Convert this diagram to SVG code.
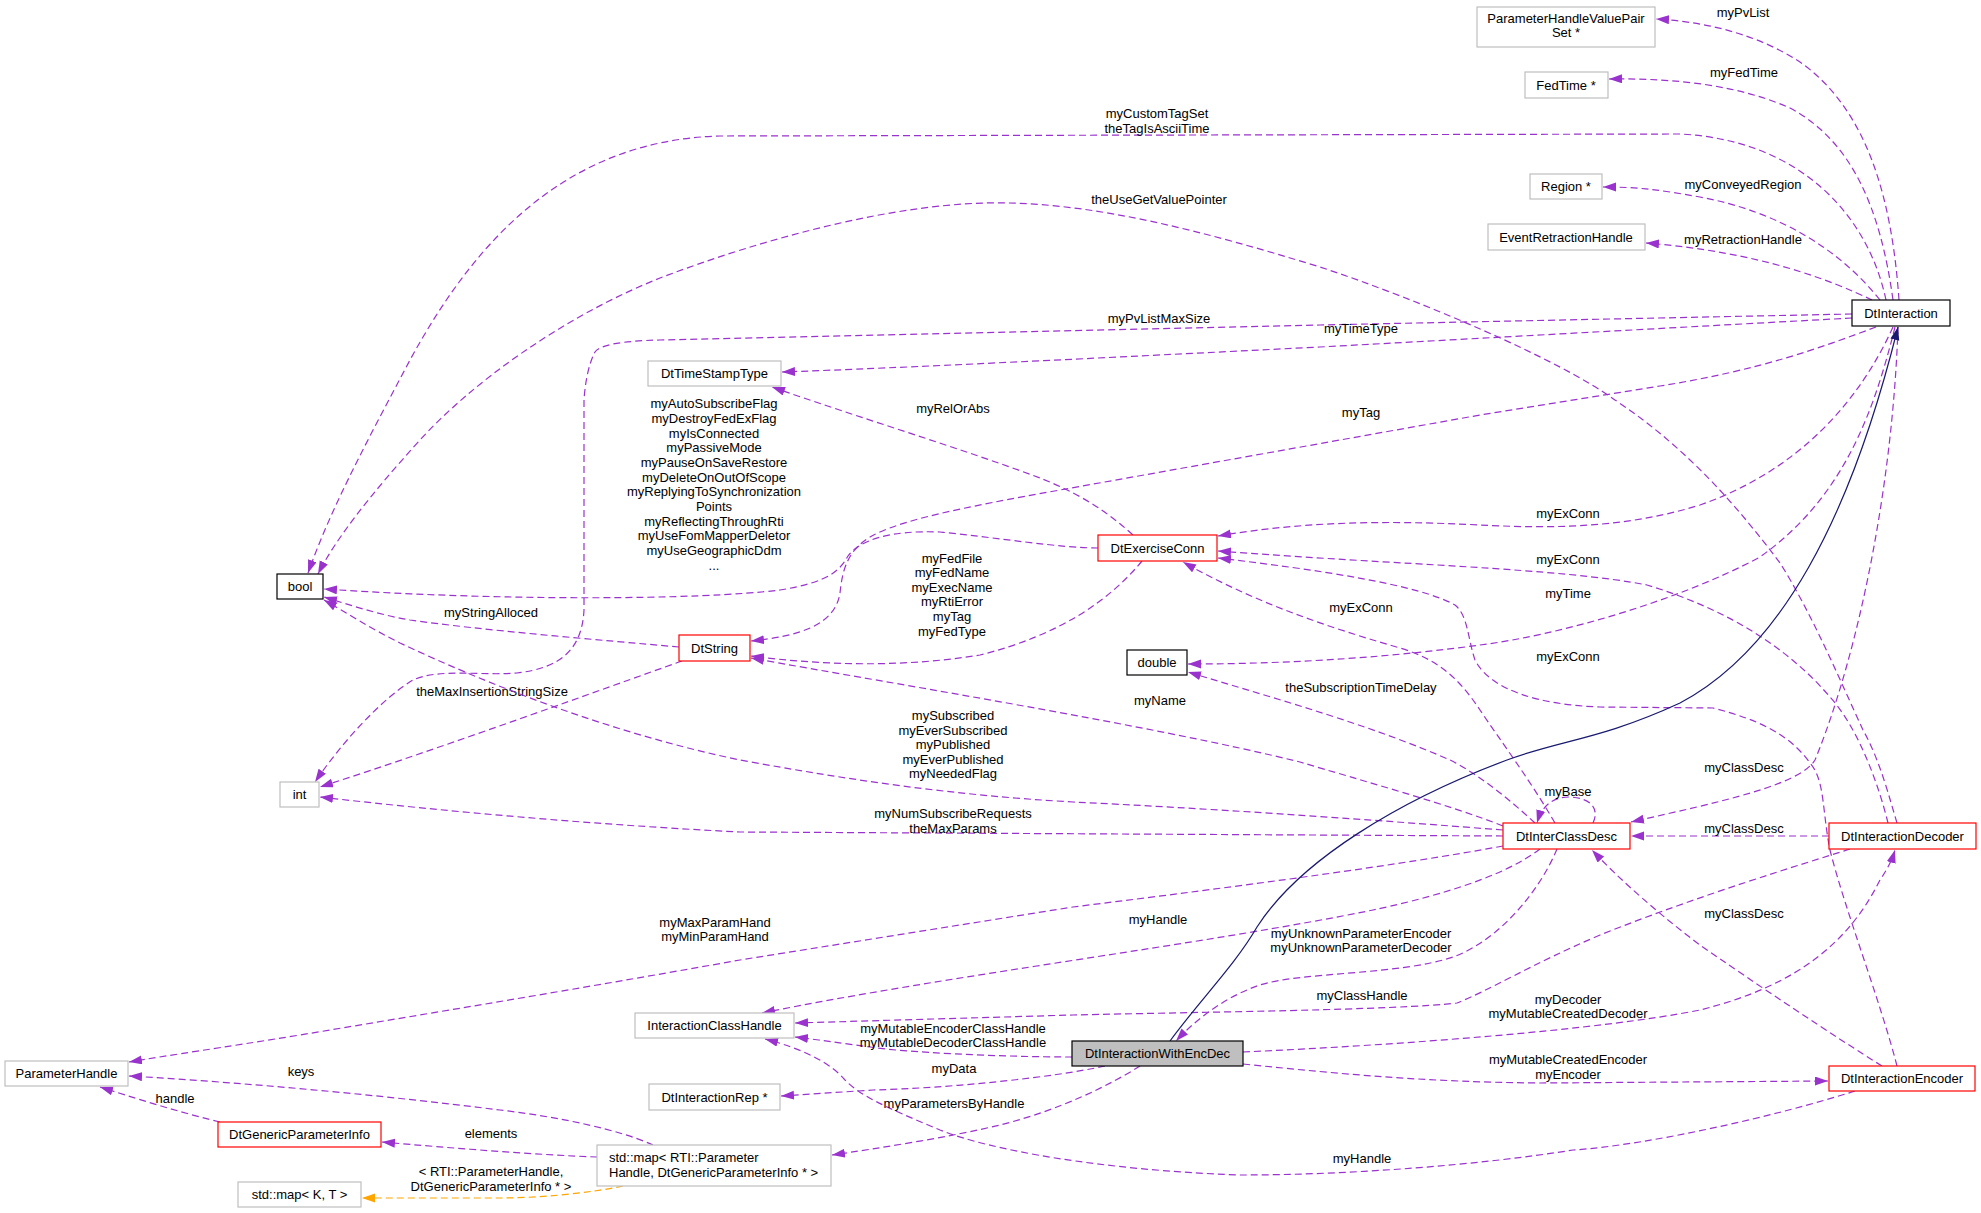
<svg xmlns="http://www.w3.org/2000/svg" width="1981" height="1213" viewBox="0 0 1981 1213">
<style>
text{font-family:"Liberation Sans",Arial,Helvetica,sans-serif;font-size:13px;fill:#000}
.n text{text-anchor:middle}
.l{text-anchor:middle}
rect{stroke-width:1.2}
.g rect{fill:#fff;stroke:#bfbfbf}
.r rect{fill:#fff;stroke:#ff0000}
.b rect{fill:#fff;stroke:#000}
.s rect{fill:#bfbfbf;stroke:#000}
.e path{fill:none;stroke:#9a32cd;stroke-width:1.2;stroke-dasharray:7,4;marker-end:url(#ap)}
path.inh{stroke:#191970;stroke-dasharray:none;marker-end:url(#ab)}
path.tpl{stroke:#ffa500;marker-end:url(#ao)}
</style>
<defs>
<marker id="ap" markerUnits="userSpaceOnUse" markerWidth="14" markerHeight="10" refX="13" refY="4.5" orient="auto"><path d="M0,0 L13,4.5 L0,9 z" fill="#9a32cd"/></marker>
<marker id="ab" markerUnits="userSpaceOnUse" markerWidth="14" markerHeight="10" refX="13" refY="4.5" orient="auto"><path d="M0,0 L13,4.5 L0,9 z" fill="#191970"/></marker>
<marker id="ao" markerUnits="userSpaceOnUse" markerWidth="14" markerHeight="10" refX="13" refY="4.5" orient="auto"><path d="M0,0 L13,4.5 L0,9 z" fill="#ffa500"/></marker>
</defs>
<rect width="1981" height="1213" fill="#fff" stroke="none"/>
<g id="edges" class="e">
<path d="M1899,300 C1892,200 1868,110 1800,62 C1760,36 1710,22 1656,19"/>
<text class="l" x="1743" y="17">myPvList</text>
<path d="M1893,300 C1880,205 1850,140 1790,108 C1740,86 1680,78 1609,79"/>
<text class="l" x="1744" y="77">myFedTime</text>
<path d="M1886,300 C1868,215 1800,140 1680,134 L720,136 C560,140 470,250 410,360 C372,432 332,505 308,573"/>
<text class="l" x="1157" y="118">myCustomTagSet</text>
<text class="l" x="1157" y="133">theTagIsAsciiTime</text>
<path d="M1880,300 C1840,250 1780,212 1700,197 C1660,190 1640,187 1603,187"/>
<text class="l" x="1743" y="189">myConveyedRegion</text>
<path d="M1872,300 C1830,280 1760,252 1646,243"/>
<text class="l" x="1743" y="244">myRetractionHandle</text>
<path d="M1852,314 L1320,325 L660,340 C620,341 600,345 595,352 C588,365 585,385 584,400 L584,610 C582,650 560,668 517,673 C480,676 440,668 413,680 C380,700 340,745 315,782"/>
<text class="l" x="1159" y="323">myPvListMaxSize</text>
<path d="M1852,318 L1320,347 C1100,358 900,368 782,372"/>
<text class="l" x="1361" y="333">myTimeType</text>
<path d="M1876,327 C1820,348 1760,370 1660,386 L1480,415 L1060,490 C960,508 900,520 870,537 C845,552 842,575 840,593 C835,625 800,636 751,641"/>
<text class="l" x="1361" y="417">myTag</text>
<path d="M1893,327 C1860,400 1800,470 1700,505 C1620,530 1540,528 1480,525 C1380,520 1300,522 1218,536"/>
<text class="l" x="1568" y="518">myExConn</text>
<path d="M1895,327 C1872,420 1840,500 1760,557 C1680,600 1560,635 1480,645 C1400,656 1300,664 1188,664"/>
<text class="l" x="1568" y="598">myTime</text>
<path d="M1898,327 C1893,480 1860,650 1815,760 C1800,785 1720,802 1631,822"/>
<text class="l" x="1744" y="772">myClassDesc</text>
<path d="M1133,535 C1100,505 1070,490 1040,478 C960,448 860,418 772,387"/>
<text class="l" x="953" y="413">myRelOrAbs</text>
<path d="M1098,548 C1060,548 1000,538 940,532 C890,530 860,540 848,556 C840,570 830,582 780,590 C700,600 500,601 324,589"/>
<text class="l" x="714" y="408">myAutoSubscribeFlag</text>
<text class="l" x="714" y="423">myDestroyFedExFlag</text>
<text class="l" x="714" y="438">myIsConnected</text>
<text class="l" x="714" y="452">myPassiveMode</text>
<text class="l" x="714" y="467">myPauseOnSaveRestore</text>
<text class="l" x="714" y="482">myDeleteOnOutOfScope</text>
<text class="l" x="714" y="496">myReplyingToSynchronization</text>
<text class="l" x="714" y="511">Points</text>
<text class="l" x="714" y="526">myReflectingThroughRti</text>
<text class="l" x="714" y="540">myUseFomMapperDeletor</text>
<text class="l" x="714" y="555">myUseGeographicDdm</text>
<text class="l" x="714" y="570">...</text>
<path d="M1142,561 C1110,600 1060,635 980,655 C900,668 820,665 751,656"/>
<text class="l" x="952" y="563">myFedFile</text>
<text class="l" x="952" y="577">myFedName</text>
<text class="l" x="952" y="592">myExecName</text>
<text class="l" x="952" y="606">myRtiError</text>
<text class="l" x="952" y="621">myTag</text>
<text class="l" x="952" y="636">myFedType</text>
<path d="M679,647 C600,640 480,630 410,620 C380,615 350,605 324,597"/>
<text class="l" x="491" y="617">myStringAlloced</text>
<path d="M682,661 C600,690 450,745 320,787"/>
<text class="l" x="492" y="696">theMaxInsertionStringSize</text>
<path d="M1555,823 C1530,780 1500,740 1480,710 C1460,680 1440,660 1400,648 C1320,625 1250,600 1183,562"/>
<text class="l" x="1361" y="612">myExConn</text>
<path d="M1535,823 C1510,800 1480,775 1450,760 C1370,725 1280,700 1188,672"/>
<text class="l" x="1361" y="692">theSubscriptionTimeDelay</text>
<path d="M1503,826 C1450,805 1360,780 1300,762 C1150,725 900,685 751,658"/>
<text class="l" x="1160" y="705">myName</text>
<path d="M1503,830 C1350,818 1200,808 1073,802 C950,795 850,780 740,760 C620,735 500,690 400,643 C370,628 345,612 324,600"/>
<text class="l" x="953" y="720">mySubscribed</text>
<text class="l" x="953" y="735">myEverSubscribed</text>
<text class="l" x="953" y="749">myPublished</text>
<text class="l" x="953" y="764">myEverPublished</text>
<text class="l" x="953" y="778">myNeededFlag</text>
<path d="M1503,836 L740,832 C600,825 450,812 320,797"/>
<text class="l" x="953" y="818">myNumSubscribeRequests</text>
<text class="l" x="953" y="833">theMaxParams</text>
<path d="M1593,823 C1600,808 1590,798 1570,797 C1555,797 1543,803 1537,823"/>
<text class="l" x="1568" y="796">myBase</text>
<path d="M1503,846 C1400,865 1250,885 1073,907 L740,960 C600,985 450,1010 300,1035 C220,1048 170,1055 129,1062"/>
<text class="l" x="715" y="927">myMaxParamHand</text>
<text class="l" x="715" y="941">myMinParamHand</text>
<path d="M1540,849 C1500,880 1420,900 1373,910 C1200,945 950,975 762,1013"/>
<text class="l" x="1158" y="924">myHandle</text>
<path d="M1557,849 C1540,890 1500,940 1453,957 C1400,975 1300,972 1260,985 C1230,995 1200,1015 1176,1041"/>
<text class="l" x="1361" y="938">myUnknownParameterEncoder</text>
<text class="l" x="1361" y="952">myUnknownParameterDecoder</text>
<path d="M1897,823 C1890,800 1880,760 1863,730 C1840,680 1810,610 1780,563 C1740,510 1690,450 1615,400 C1560,360 1420,300 1320,267 C1200,230 1100,205 1009,203 C900,200 760,240 660,278 C560,318 470,385 420,440 C370,495 335,540 318,574"/>
<text class="l" x="1159" y="204">theUseGetValuePointer</text>
<path d="M1888,823 C1880,790 1860,730 1830,697 C1790,650 1730,610 1647,585 C1560,568 1400,565 1218,551"/>
<text class="l" x="1568" y="564">myExConn</text>
<path d="M1829,836 L1631,836"/>
<text class="l" x="1744" y="833">myClassDesc</text>
<path d="M1850,849 C1800,865 1700,895 1600,935 C1530,965 1490,990 1457,1003 C1400,1010 1200,1012 1073,1015 L795,1023"/>
<text class="l" x="1362" y="1000">myClassHandle</text>
<path d="M1897,1066 C1880,1000 1845,910 1830,850 C1822,810 1825,780 1810,763 C1790,735 1760,720 1713,708 L1600,707 C1540,705 1490,690 1475,660 C1468,640 1468,615 1455,605 C1420,585 1320,570 1218,558"/>
<text class="l" x="1568" y="661">myExConn</text>
<path d="M1882,1066 C1840,1040 1750,980 1700,945 C1660,915 1620,880 1592,850"/>
<text class="l" x="1744" y="918">myClassDesc</text>
<path d="M1855,1091 C1780,1115 1650,1145 1573,1150 C1480,1165 1350,1175 1240,1175 C1100,1170 990,1150 940,1130 C880,1105 860,1095 845,1080 C830,1062 800,1048 765,1039"/>
<text class="l" x="1362" y="1163">myHandle</text>
<path class="inh" d="M1170,1041 C1200,1000 1235,965 1257,927 C1300,860 1400,800 1507,760 C1560,740 1600,740 1680,703 C1780,650 1850,520 1898,327"/>
<path d="M1072,1057 C1000,1057 900,1052 870,1047 C840,1043 820,1040 795,1037"/>
<text class="l" x="953" y="1033">myMutableEncoderClassHandle</text>
<text class="l" x="953" y="1047">myMutableDecoderClassHandle</text>
<path d="M1243,1052 C1400,1045 1600,1030 1700,1010 C1800,985 1850,940 1880,880 C1888,868 1892,860 1895,850"/>
<text class="l" x="1568" y="1004">myDecoder</text>
<text class="l" x="1568" y="1018">myMutableCreatedDecoder</text>
<path d="M1243,1064 C1350,1075 1430,1082 1540,1083 L1828,1081"/>
<text class="l" x="1568" y="1064">myMutableCreatedEncoder</text>
<text class="l" x="1568" y="1079">myEncoder</text>
<path d="M1105,1066 C1050,1078 950,1088 873,1090 L781,1096"/>
<text class="l" x="954" y="1073">myData</text>
<path d="M1140,1066 C1110,1085 1060,1110 1000,1125 C950,1137 880,1148 832,1155"/>
<text class="l" x="954" y="1108">myParametersByHandle</text>
<path d="M653,1145 C620,1130 560,1117 500,1110 C380,1095 250,1083 129,1076"/>
<text class="l" x="301" y="1076">keys</text>
<path d="M597,1157 C540,1155 450,1148 382,1142"/>
<text class="l" x="491" y="1138">elements</text>
<path class="tpl" d="M623,1186 C590,1193 540,1198 500,1198 L362,1198"/>
<text class="l" x="491" y="1176">&lt; RTI::ParameterHandle,</text>
<text class="l" x="491" y="1191">DtGenericParameterInfo * &gt;</text>
<path d="M220,1122 C190,1115 150,1103 100,1087"/>
<text class="l" x="175" y="1103">handle</text>
</g>
<g id="n_phvps" class="n g"><rect x="1477" y="7" width="178" height="40"/><text x="1566" y="23">ParameterHandleValuePair</text><text x="1566" y="37">Set *</text></g>
<g id="n_fedtime" class="n g"><rect x="1525" y="72" width="83" height="26"/><text x="1566" y="90">FedTime *</text></g>
<g id="n_region" class="n g"><rect x="1530" y="174" width="72" height="25"/><text x="1566" y="191">Region *</text></g>
<g id="n_eventretraction" class="n g"><rect x="1488" y="224" width="157" height="26"/><text x="1566" y="242">EventRetractionHandle</text></g>
<g id="n_dtinteraction" class="n b"><rect x="1852" y="300" width="98" height="26"/><text x="1901" y="318">DtInteraction</text></g>
<g id="n_dttimestamptype" class="n g"><rect x="648" y="361" width="133" height="25"/><text x="714.5" y="378">DtTimeStampType</text></g>
<g id="n_bool" class="n b"><rect x="277" y="574" width="46" height="25"/><text x="300" y="591">bool</text></g>
<g id="n_dtexerciseconn" class="n r"><rect x="1098" y="535" width="119" height="26"/><text x="1157.5" y="553">DtExerciseConn</text></g>
<g id="n_dtstring" class="n r"><rect x="679" y="635" width="71" height="26"/><text x="714.5" y="653">DtString</text></g>
<g id="n_double" class="n b"><rect x="1127" y="650" width="60" height="25"/><text x="1157" y="667">double</text></g>
<g id="n_int" class="n g"><rect x="280" y="782" width="39" height="25"/><text x="299.5" y="799">int</text></g>
<g id="n_dtinterclassdesc" class="n r"><rect x="1503" y="823" width="127" height="26"/><text x="1566.5" y="841">DtInterClassDesc</text></g>
<g id="n_dtinteractiondecoder" class="n r"><rect x="1829" y="823" width="147" height="26"/><text x="1902.5" y="841">DtInteractionDecoder</text></g>
<g id="n_interactionclasshandle" class="n g"><rect x="635" y="1013" width="159" height="25"/><text x="714.5" y="1030">InteractionClassHandle</text></g>
<g id="n_dtinteractionwithencdec" class="n s"><rect x="1072" y="1041" width="171" height="25"/><text x="1157.5" y="1058">DtInteractionWithEncDec</text></g>
<g id="n_dtinteractionencoder" class="n r"><rect x="1829" y="1066" width="146" height="25"/><text x="1902" y="1083">DtInteractionEncoder</text></g>
<g id="n_dtinteractionrep" class="n g"><rect x="649" y="1084" width="131" height="26"/><text x="714.5" y="1102">DtInteractionRep *</text></g>
<g id="n_parameterhandle" class="n g"><rect x="5" y="1061" width="123" height="25"/><text x="66.5" y="1078">ParameterHandle</text></g>
<g id="n_dtgenericparameterinfo" class="n r"><rect x="218" y="1122" width="163" height="25"/><text x="299.5" y="1139">DtGenericParameterInfo</text></g>
<g id="n_stdmap_rti" class="g"><rect x="597" y="1145" width="234" height="41"/><text x="609" y="1162">std::map&lt; RTI::Parameter</text><text x="609" y="1177">Handle, DtGenericParameterInfo * &gt;</text></g>
<g id="n_stdmap_kt" class="n g"><rect x="238" y="1182" width="123" height="25"/><text x="299.5" y="1199">std::map&lt; K, T &gt;</text></g>
</svg>
